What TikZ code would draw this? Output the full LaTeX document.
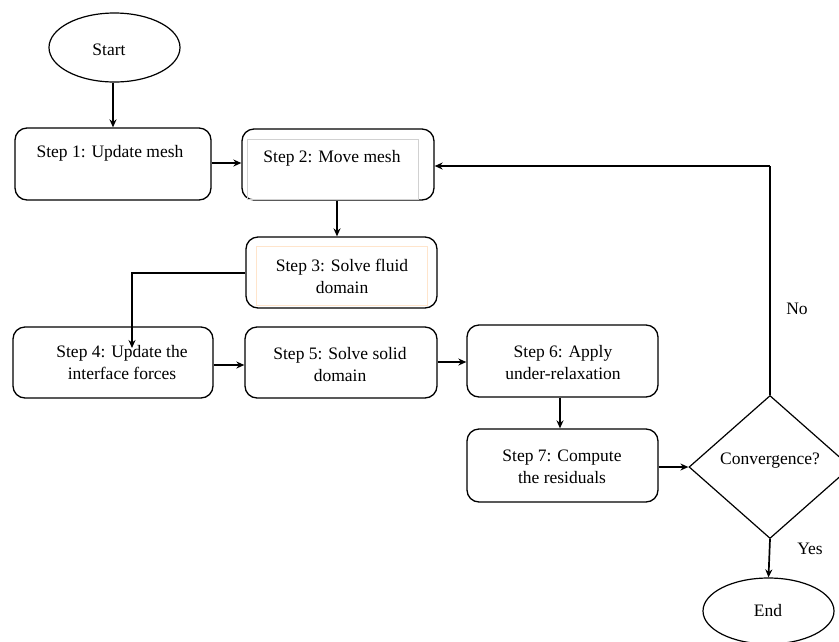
\documentclass[tikz,border=0pt]{standalone}
\usepackage{fontspec}
\setmainfont{Liberation Serif}
\usetikzlibrary{arrows.meta,shapes.geometric}
\begin{document}
\begin{tikzpicture}[x=1pt,y=-1pt,
  box/.style={draw,line width=1.3pt,rounded corners=12pt,minimum width=#1,inner sep=0pt},
  inbox/.style={draw,line width=0.6pt,inner sep=0pt},
  txt/.style={font=\fontsize{17.5}{22}\selectfont,align=center,inner sep=0pt},
  arr/.style={line width=1.7pt,-{Stealth[length=8pt,width=7pt]}},
  oval/.style={draw,ellipse,line width=1.2pt,inner sep=0pt}
]
\useasboundingbox (0,0) rectangle (839,641);
\clip (0,0) rectangle (839,641);
\fill[white] (0,0) rectangle (839,641);

% shapes
\node[oval,minimum width=131pt,minimum height=69pt] (start) at (114.5,47.5) {};
\node[box=196pt,minimum height=72pt] (s1) at (113,164) {};
\node[box=192pt,minimum height=71pt] (s2) at (338,164.5) {};
\node[inbox,draw=black!18,minimum width=171pt,minimum height=60pt] (s2in) at (332.5,169) {};
\node[box=191pt,minimum height=71pt] (s3) at (341.5,272.5) {};
\node[inbox,draw=orange!20,minimum width=171pt,minimum height=59pt] (s3in) at (341.5,275.5) {};
\node[box=200pt,minimum height=71pt] (s4) at (113,362.5) {};
\node[box=192pt,minimum height=71pt] (s5) at (341,362.5) {};
\node[box=191pt,minimum height=72pt] (s6) at (562.5,361) {};
\node[box=191pt,minimum height=73pt] (s7) at (562.5,465.5) {};
\node[draw,diamond,line width=1.2pt,inner sep=0pt,minimum width=162pt,minimum height=143pt] (conv) at (770,467) {};
\node[oval,minimum width=131pt,minimum height=66pt] (end) at (768.5,611) {};

% texts
\node[txt] (tstart) at (109,50) {Start};
\node[txt] (t1) at (110,153) {Step 1: Update mesh};
\node[txt] (t2) at (332,158) {Step 2: Move mesh};
\node[txt] (t3) at (342,276) {Step 3: Solve fluid\\domain};
\node[txt] (t4) at (122,363) {Step 4: Update the\\interface forces};
\node[txt] (t5) at (340,365) {Step 5: Solve solid\\domain};
\node[txt] (t6) at (563,363) {Step 6: Apply\\under-relaxation};
\node[txt] (t7) at (562,467) {Step 7: Compute\\the residuals};
\node[txt] (tconv) at (770,461) {Convergence?};
\node[txt] (tend) at (768,611) {End};
\node[txt] (lno) at (797,309) {No};
\node[txt] (lyes) at (810,549) {Yes};

% connectors
\coordinate (s4in) at (132,348);
\coordinate (nocorner) at (770,166);
\draw[arr] (start.south -| 113,0) -- (s1.north -| 113,0);
\draw[arr] (s1.east |- 0,163) -- (s2.west |- 0,163);
\draw[arr] (s2.south -| 337,0) -- (s3.north -| 337,0);
\draw[arr] (s3.west |- 0,273) -| (s4in);
\draw[arr] (s4.east |- 0,365) -- (s5.west |- 0,365);
\draw[arr] (s5.east |- 0,362) -- (s6.west |- 0,362);
\draw[arr] (s6.south -| 560,0) -- (s7.north -| 560,0);
\draw[arr] (s7.east |- conv.west) -- (conv.west);
\draw[line width=1.7pt] (conv.north) -- (nocorner);
\draw[arr] (nocorner) -- (s2.east |- nocorner);
\draw[arr] (conv.south) -- (end.north);
\end{tikzpicture}
\end{document}
